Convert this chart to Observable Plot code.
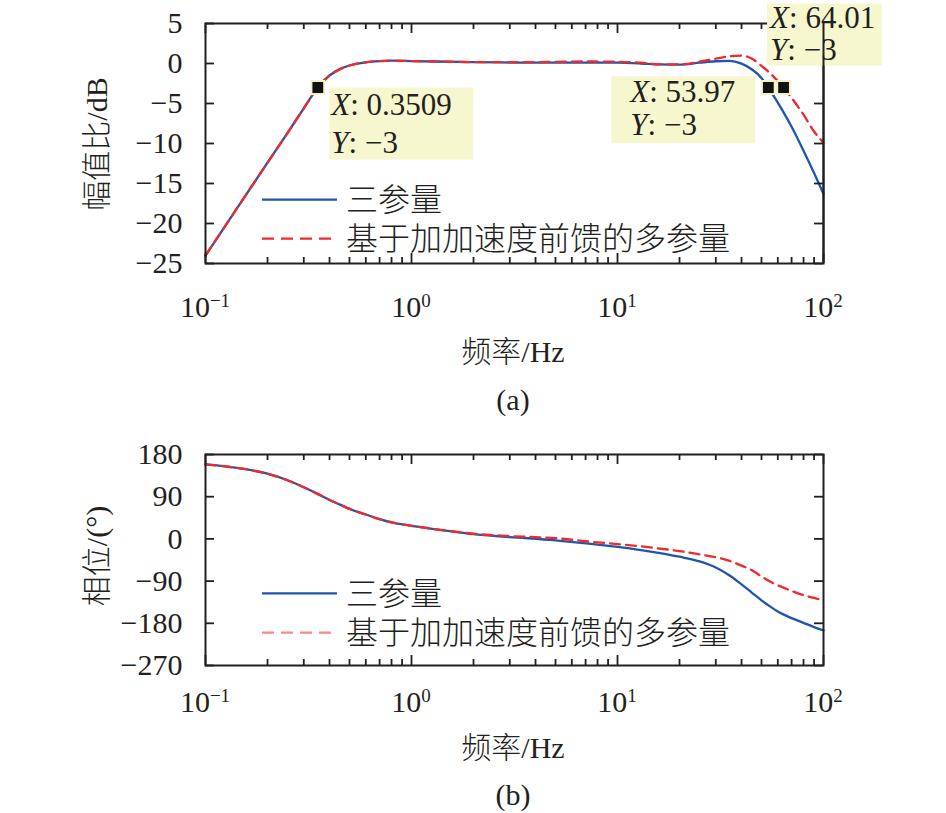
<!DOCTYPE html>
<html><head><meta charset="utf-8">
<script src="https://cdn.jsdelivr.net/npm/d3@7"></script>
<script src="https://cdn.jsdelivr.net/npm/@observablehq/plot@0.6"></script>
<style>
body{margin:0;background:#fff;}
#wrap{position:relative;width:946px;height:813px;font-family:"Liberation Serif","Noto Sans CJK SC",serif;color:#231f20;}
#wrap svg{position:absolute;left:0;}
.lbl{position:absolute;font-size:30px;white-space:nowrap;transform:translate(-50%,-50%);line-height:1;font-weight:300;}
.rot{transform:translate(-50%,-50%) rotate(-90deg);}
</style></head><body><div id="wrap"></div>
<script>
// ---------- data ----------
const seriesNames = ["三参量", "基于加加速度前馈的多参量"];
const magFreq =   [0.1, 0.15, 0.2, 0.25, 0.3, 0.3509, 0.4, 0.45, 0.5, 0.6, 0.7, 0.8, 1, 1.5, 2, 3, 5, 7, 10, 13, 16, 20, 25, 30, 35, 40, 45, 50, 53.97, 60, 64.01, 70, 80, 90, 100];
const magThree =  [-24.0, -17.2, -12.4, -8.7, -5.6, -3.0, -1.5, -0.7, -0.25, 0.15, 0.3, 0.35, 0.3, 0.22, 0.17, 0.12, 0.1, 0.12, 0.1, 0.0, -0.12, -0.15, 0.1, 0.28, 0.32, -0.02, -0.75, -1.8, -3.0, -4.9, -6.1, -7.9, -10.9, -13.7, -16.3];
const magMulti =  [-24.0, -17.2, -12.4, -8.7, -5.6, -3.0, -1.5, -0.7, -0.25, 0.15, 0.3, 0.35, 0.3, 0.22, 0.18, 0.17, 0.2, 0.25, 0.22, 0.1, -0.1, -0.12, 0.22, 0.6, 0.9, 0.98, 0.6, -0.3, -1.0, -2.2, -3.0, -4.3, -6.4, -8.5, -9.9];
const phaseFreq = [0.1, 0.15, 0.2, 0.25, 0.3, 0.35, 0.4, 0.45, 0.5, 0.6, 0.7, 0.8, 1, 1.5, 2, 3, 5, 8, 10, 15, 20, 25, 30, 35, 40, 45, 50, 55, 60, 70, 80, 90, 100];
const phaseThree = [159, 150, 139, 125, 110, 96, 83, 73, 64, 52, 42, 35, 28, 17, 10, 4, -3, -12, -17, -28, -38, -48, -61, -78, -97, -115, -131, -144, -155, -169, -179, -188, -195];
const phaseMulti = [159, 150, 139, 125, 110, 96, 83, 73, 64, 52, 42, 35, 28, 17.5, 11, 6, 1.5, -7.5, -11, -19, -26, -33, -39, -47, -57, -67, -80, -91, -99, -111, -120, -126, -131];
const markerFreq = [0.3509, 53.97, 64.01];
const markerMag = [-3, -3, -3];
const markerTextX = ["0.3509", "53.97", "64.01"];
const markerTextY = ["−3", "−3", "−3"];
const decadeTicks = [0.1, 1, 10, 100];
const decadeExp = ["−1", "0", "1", "2"];
const magTicks = [5, 0, -5, -10, -15, -20, -25];
const phaseTicks = [180, 90, 0, -90, -180, -270];
const xLabel = "频率/Hz";
const magLabel = "幅值比/dB";
const phaseLabel = "相位/(°)";
const panelLabels = ["(a)", "(b)"];

// ---------- styles ----------
const BLUE = "#1f55ad", RED = "#ee2a2a", TIPFILL = "#f7f7cf", INK = "#231f20";
const FONT = "'Liberation Serif','Noto Sans CJK SC',serif";
const minorTicks = [0.1, 1, 10].flatMap(d => [2,3,4,5,6,7,8,9].map(k => k * d));
const tipLayout = [
  {bx: 12, by: 0.6, bw: 144, bh: 72, tx: 14, l1: 28, l2: 66},
  {bx: -156.5, by: -10.7, bw: 144, bh: 67, tx: -137.5, l1: 15, l2: 48},
  {bx: -16, by: -83.4, bw: 115, bh: 62, tx: -13, l1: -58.7, l2: -26.7}
];
const fmt = d => d < 0 ? "−" + (-d) : String(d);
const W = 946, ML = 205, MR = 123;
const FRAME_W = W - ML - MR;

const magData = [
  ...magFreq.map((f, i) => ({f, v: magThree[i], s: seriesNames[0]})),
  ...magFreq.map((f, i) => ({f, v: magMulti[i], s: seriesNames[1]}))
];
const phaseData = [
  ...phaseFreq.map((f, i) => ({f, v: phaseThree[i], s: seriesNames[0]})),
  ...phaseFreq.map((f, i) => ({f, v: phaseMulti[i], s: seriesNames[1]}))
];
const markers = markerFreq.map((f, i) => ({f, v: markerMag[i], tx: markerTextX[i], ty: markerTextY[i]}));

// inward ticks on all four sides, as short rules placed by the plot's scales
function tickRules(yTicks, frameH) {
  const s = {stroke: INK, strokeWidth: 1.8};
  return [
    Plot.ruleX(decadeTicks, {...s, insetTop: frameH - 10}),
    Plot.ruleX(decadeTicks, {...s, insetBottom: frameH - 10}),
    Plot.ruleX(minorTicks, {...s, insetTop: frameH - 6}),
    Plot.ruleX(minorTicks, {...s, insetBottom: frameH - 6}),
    Plot.ruleY(yTicks, {...s, insetRight: FRAME_W - 9}),
    Plot.ruleY(yTicks, {...s, insetLeft: FRAME_W - 9})
  ];
}

function xTickLabels(offset) {
  return (index, scales, values, dims) => {
    const g = d3.create("svg:g").attr("fill", INK).attr("font-family", FONT).attr("text-anchor", "middle");
    decadeTicks.forEach((t, i) => {
      const text = g.append("text")
        .attr("x", scales.x(t))
        .attr("y", dims.height - dims.marginBottom + offset)
        .attr("font-size", 30);
      text.append("tspan").text("10");
      text.append("tspan").attr("dy", -10).attr("font-size", 19).text(decadeExp[i]);
    });
    return g.node();
  };
}

function legendMark(row1, row2, dashColor) {
  return (index, scales, values, dims) => {
    const x0 = dims.marginLeft, y0 = dims.marginTop;
    const g = d3.create("svg:g").attr("text-anchor", "start");
    const rows = [{y: y0 + row1, c: BLUE, dash: null, t: seriesNames[0]}, {y: y0 + row2, c: dashColor, dash: "12,7", t: seriesNames[1]}];
    for (const r of rows) {
      g.append("line").attr("x1", x0 + 57).attr("x2", x0 + 132).attr("y1", r.y).attr("y2", r.y)
        .attr("stroke", r.c).attr("stroke-width", 2.3).attr("stroke-dasharray", r.dash);
      g.append("text").attr("x", x0 + 141).attr("y", r.y).attr("dy", "0.36em")
        .attr("font-size", 32).attr("font-weight", 300).attr("fill", INK).attr("font-family", FONT).text(r.t);
    }
    return g.node();
  };
}

function tipMark(index, scales, values, dims) {
  const g = d3.create("svg:g").attr("font-family", FONT).attr("fill", INK).attr("text-anchor", "start");
  markers.forEach((m, i) => {
    const L = tipLayout[i];
    const px = scales.x(m.f), py = scales.y(m.v);
    g.append("rect").attr("x", px + L.bx).attr("y", py + L.by).attr("width", L.bw).attr("height", L.bh).attr("fill", TIPFILL);
    const lines = [["X", m.tx, L.l1], ["Y", m.ty, L.l2]];
    for (const [k, val, dy] of lines) {
      const t = g.append("text").attr("x", px + L.tx).attr("y", py + dy).attr("font-size", 31);
      t.append("tspan").attr("font-style", "italic").text(k);
      t.append("tspan").text(": " + val);
    }
  });
  return g.node();
}

const plotStyle = {fontFamily: FONT, fontSize: "30px", color: INK, background: "transparent", overflow: "visible"};

const magPlot = Plot.plot({
  width: W, height: 330,
  marginLeft: ML, marginRight: MR, marginTop: 23, marginBottom: 67,
  x: {type: "log", domain: [0.1, 100], axis: null},
  y: {domain: [-25, 5]},
  style: plotStyle,
  marks: [
    Plot.axisY({anchor: "left", ticks: magTicks, tickSize: 0, tickPadding: 23, tickFormat: fmt, label: null, fontSize: 30, fill: INK}),
    Plot.line(magData.filter(d => d.s === seriesNames[0]), {x: "f", y: "v", stroke: BLUE, strokeWidth: 2.3, curve: "monotone-x"}),
    Plot.line(magData.filter(d => d.s === seriesNames[1]), {x: "f", y: "v", stroke: RED, strokeWidth: 2.3, strokeDasharray: "10,6", curve: "monotone-x"}),
    Plot.frame({stroke: INK, strokeWidth: 2}),
    ...tickRules(magTicks, 240),
    tipMark,
    Plot.dot(markers, {x: "f", y: "v", symbol: "square", r: 7.2, fill: "#111", stroke: "#f2f2c6", strokeWidth: 2}),
    Plot.ruleX([100], {stroke: INK, strokeWidth: 2}),
    legendMark(176.6, 215.6, RED),
    xTickLabels(53.5)
  ]
});

const phasePlot = Plot.plot({
  width: W, height: 300,
  marginLeft: ML, marginRight: MR, marginTop: 24, marginBottom: 65,
  x: {type: "log", domain: [0.1, 100], axis: null},
  y: {domain: [-270, 180]},
  style: plotStyle,
  marks: [
    Plot.axisY({anchor: "left", ticks: phaseTicks, tickSize: 0, tickPadding: 23, tickFormat: fmt, label: null, fontSize: 30, fill: INK}),
    Plot.line(phaseData.filter(d => d.s === seriesNames[0]), {x: "f", y: "v", stroke: BLUE, strokeWidth: 2.3, curve: "monotone-x"}),
    Plot.line(phaseData.filter(d => d.s === seriesNames[1]), {x: "f", y: "v", stroke: RED, strokeWidth: 2.3, strokeDasharray: "10,6", curve: "monotone-x"}),
    Plot.frame({stroke: INK, strokeWidth: 2}),
    ...tickRules(phaseTicks, 211),
    legendMark(139.3, 178.7, "#f38a8a"),
    xTickLabels(47)
  ]
});

const wrap = document.getElementById("wrap");
magPlot.style.top = "0px";
phasePlot.style.top = "430px";
wrap.append(magPlot, phasePlot);
function addLabel(text, x, y, cls) {
  const d = document.createElement("div");
  d.className = "lbl" + (cls ? " " + cls : "");
  d.style.left = x + "px"; d.style.top = y + "px";
  d.textContent = text;
  wrap.append(d);
}
addLabel(magLabel, 97, 144, "rot");
addLabel(phaseLabel, 97, 556, "rot");
addLabel(xLabel, 513, 352);
addLabel(panelLabels[0], 513, 400);
addLabel(xLabel, 513, 748);
addLabel(panelLabels[1], 513, 795);
</script></body></html>
